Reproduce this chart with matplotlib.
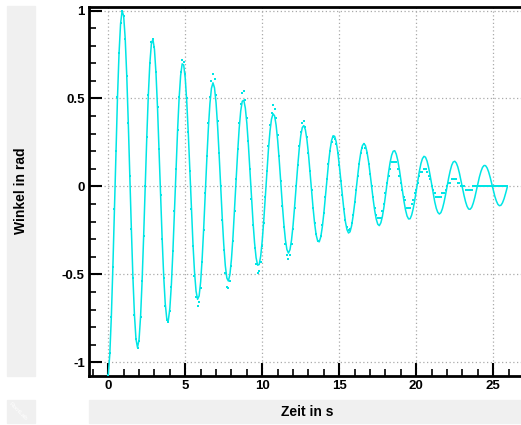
import numpy as np
import matplotlib
matplotlib.use('Agg')
import matplotlib.pyplot as plt
from matplotlib.ticker import MultipleLocator, FuncFormatter
from matplotlib.patches import Rectangle

plt.rcParams['font.family'] = ['Liberation Sans', 'DejaVu Sans']
plt.rcParams['axes.unicode_minus'] = False

# Sampling interval of both series (s)
sample_dt = 0.1

# Fitted curve, angle in milliradians, one value per sample
fit_mrad = [-1073,-955,-743,-459,-134,199,506,756,925,998,969,842,633,363,61,-241,-514,-729,-868,-916,-871,-738,-533,-279,0,274,515,699,810,837,779,643,445,205,-51,-298,-510,-666,-753,-762,-693,-556,-365,-141,94,315,500,631,697,690,614,478,295,86,-128,-325,-486,-595,-642,-623,-542,-407,-233,-39,155,330,469,558,589,560,475,343,179,0,-176,-331,-450,-521,-538,-501,-413,-286,-132,33,191,328,428,484,490,446,358,235,91,-60,-202,-321,-406,-448,-444,-395,-307,-190,-55,82,209,313,383,413,401,348,262,150,25,-100,-212,-302,-359,-379,-360,-305,-221,-115,0,113,213,289,335,346,322,266,184,85,-21,-123,-211,-276,-311,-315,-287,-230,-151,-58,39,130,207,261,288,285,254,198,122,36,-53,-134,-201,-246,-265,-258,-224,-168,-97,-16,64,137,194,231,244,232,196,142,74,0,-73,-137,-186,-215,-223,-207,-171,-118,-54,14,79,136,177,200,203,184,148,97,38,-25,-84,-133,-168,-185,-184,-163,-127,-79,-23,34,86,129,158,171,166,144,108,62,11,-41,-88,-125,-148,-157,-149,-126,-91,-48,0,47,88,120,139,143,133,110,76,35,-9,-51,-87,-114,-129,-130,-119,-95,-63,-24,16,54,85,108,119,118,105,82,51,15,-22,-56,-83,-102,-110,-107,-93,-70,-40,-7]

# Measured angle, centiradians, one value per sample
meas_crad = [-107,-95,-74,-46,-13,20,51,76,93,100,97,84,63,36,6,-24,-52,-73,-87,-92,-88,-74,-54,-28,0,28,52,70,82,84,79,65,45,21,-5,-30,-52,-68,-76,-77,-71,-57,-37,-14,10,32,51,65,72,71,64,50,31,9,-13,-34,-51,-63,-68,-66,-58,-43,-25,-4,17,36,51,60,64,61,52,37,19,0,-19,-36,-49,-57,-58,-54,-45,-31,-14,4,21,36,47,53,54,49,39,26,10,-7,-22,-35,-44,-49,-48,-43,-34,-21,-6,9,23,35,42,46,44,39,29,17,3,-11,-23,-33,-39,-41,-39,-33,-24,-12,0,12,23,31,36,37,34,28,19,9,-2,-12,-21,-27,-31,-31,-28,-22,-15,-6,4,13,20,25,28,27,24,19,12,3,-5,-13,-19,-23,-25,-24,-21,-16,-9,-2,6,13,19,22,24,22,19,13,7,0,-6,-12,-16,-18,-18,-18,-14,-10,-4,2,6,10,14,14,14,14,10,6,2,-2,-6,-8,-12,-12,-12,-10,-8,-4,-2,2,6,8,8,10,10,8,6,4,0,-2,-4,-6,-6,-6,-6,-4,-4,-2,0,2,2,4,4,4,4,2,2,0,0,0,-2,-2,-2,-2,-2,0,0,0,0,0,0,0,0,0,0,0,0,0,0,0,0,0,0,0,0,0,0,0]

x_label = 'Zeit in s'
y_label = 'Winkel in rad'

n = min(len(fit_mrad), len(meas_crad))
t = np.arange(n) * sample_dt
fit = np.array(fit_mrad[:n]) / 1000.0
meas = np.array(meas_crad[:n]) / 100.0

cyan = '#00e5e5'
fig = plt.figure(figsize=(5.21, 4.25), dpi=100)
ax = fig.add_axes([89/521, 1-376/425, 1-89/521, (376-7)/425])
ax.set_xlim(-1.25, 26.8)
ax.set_ylim(-1.078, 1.02)
ax.plot(t, fit, color=cyan, lw=1.1, zorder=3)
ax.plot(t, meas, ls='none', marker='s', ms=1.6, mew=0, color=cyan, zorder=3)

for s in ['left', 'bottom', 'top']:
    ax.spines[s].set_linewidth(2)
ax.spines['right'].set_visible(False)
ax.xaxis.set_major_locator(MultipleLocator(5))
ax.xaxis.set_minor_locator(MultipleLocator(1))
ax.yaxis.set_major_locator(MultipleLocator(0.5))
ax.yaxis.set_minor_locator(MultipleLocator(0.1))
fmt = FuncFormatter(lambda v, p: '%g' % v)
ax.xaxis.set_major_formatter(fmt)
ax.yaxis.set_major_formatter(fmt)
ax.tick_params(which='major', direction='in', length=9.5, width=1.5, labelsize=9.5, pad=3)
ax.tick_params(which='minor', direction='in', length=5, width=1.2)
ax.tick_params(top=False, right=False, which='both')
for lab in ax.get_xticklabels() + ax.get_yticklabels():
    lab.set_fontweight('bold')
ax.grid(True, which='major', ls=(0, (1, 2)), color='#aaaaaa', lw=0.9)
ax.set_axisbelow(True)

gray = '#f0f0f0'
fig.patches.append(Rectangle((7/521, 1-376/425), 28/521, 370/425, transform=fig.transFigure, color=gray, zorder=0))
fig.patches.append(Rectangle((89/521, 2/425), 432/521, 23/425, transform=fig.transFigure, color=gray, zorder=0))
fig.patches.append(Rectangle((7/521, 2/425), 28/521, 23/425, transform=fig.transFigure, color=gray, zorder=0))
fig.text(21/521, 1-191/425, y_label, rotation=90, ha='center', va='center', fontweight='bold', fontsize=10)
fig.text(307/521, 1-411.5/425, x_label, ha='center', va='center', fontweight='bold', fontsize=10)
fig.text(18/521, 1-411/425, 'RootLab', rotation=-45, ha='center', va='center', fontsize=4.5, color='white')

fig.savefig('out.png', dpi=100)
